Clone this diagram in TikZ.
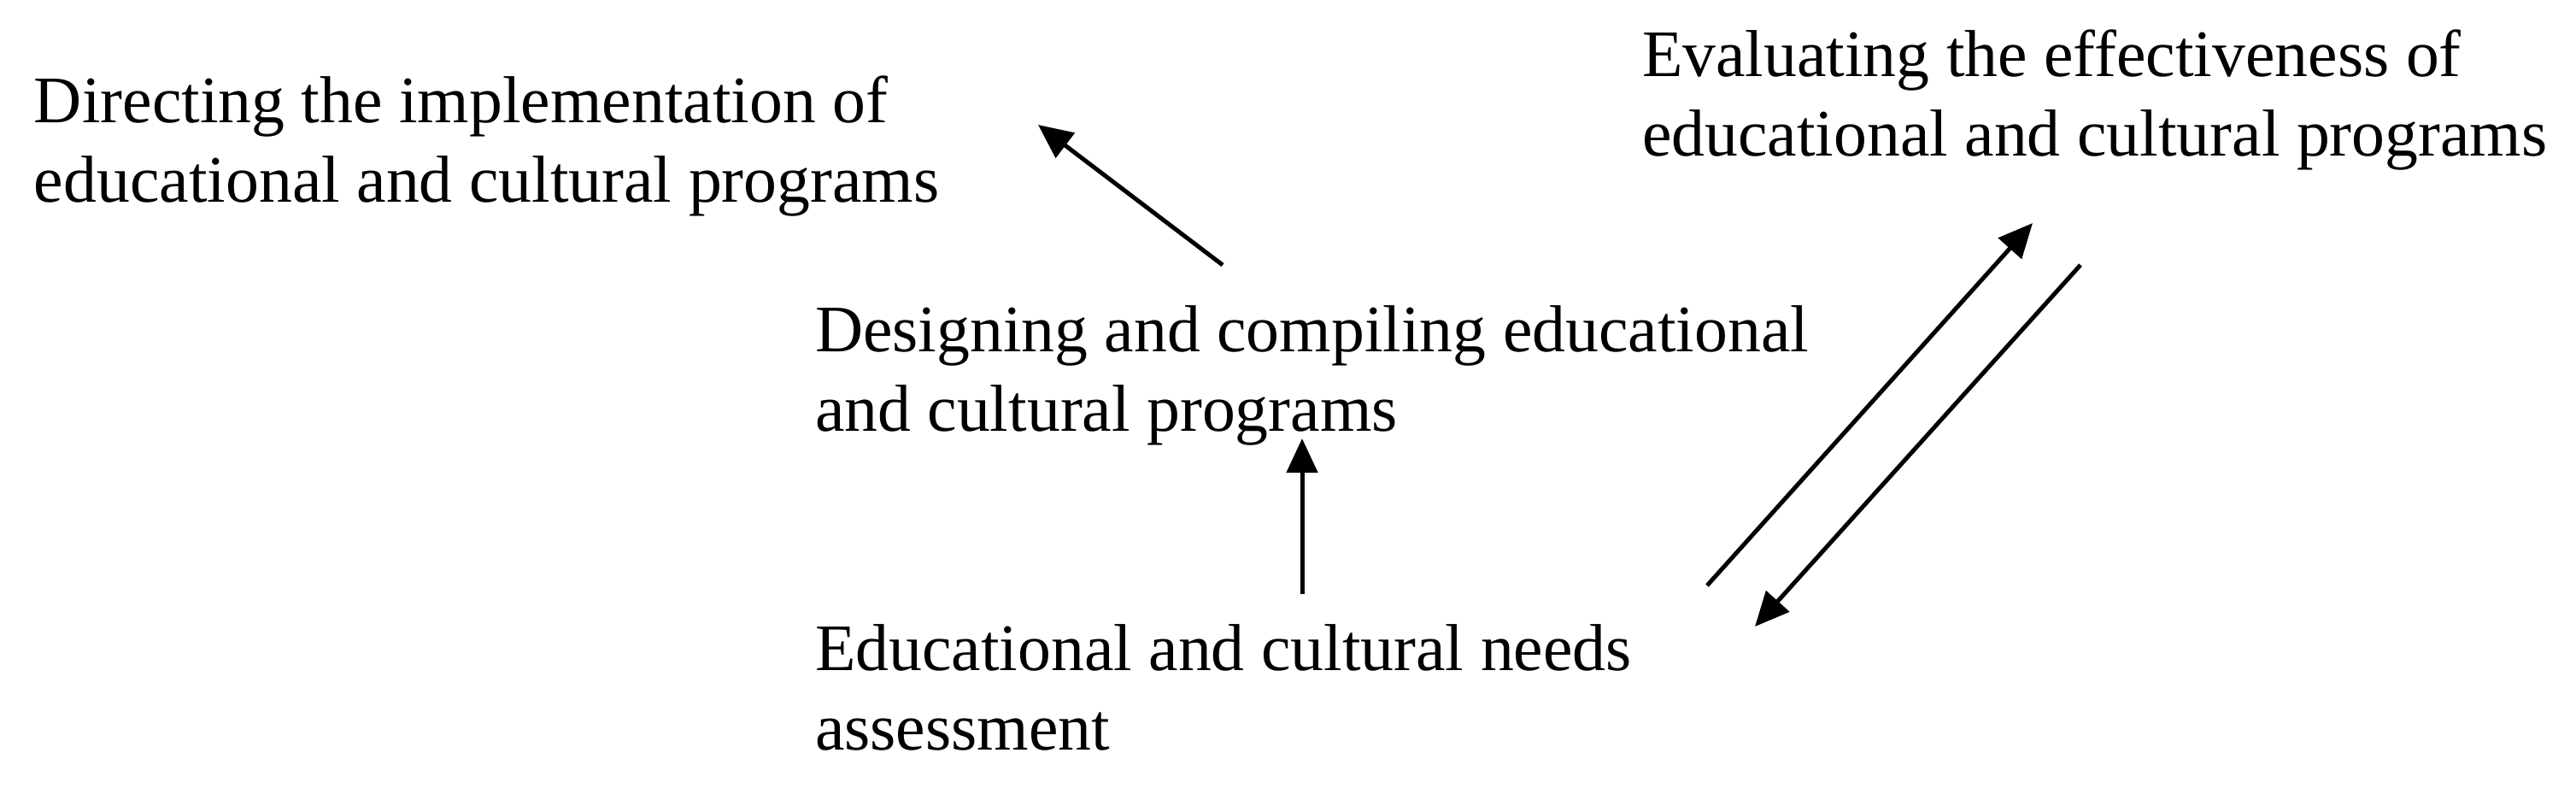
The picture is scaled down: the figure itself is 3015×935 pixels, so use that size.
\documentclass[tikz,border=0pt]{standalone}
\usepackage{fontspec}
\setmainfont{Liberation Serif}
\usetikzlibrary{arrows.meta}
\newcommand\twoline[2]{\vtop{\baselineskip=9.35pt\hbox{#1}\hbox{#2}}}
\tikzset{
  lbl/.style={anchor=base west, inner sep=0pt, font=\fontsize{7.77pt}{9.35pt}\selectfont},
  arr/.style={line width=0.5pt, -{Triangle[length=4pt,width=3.6pt]}}
}
\begin{document}
\begin{tikzpicture}[x=0.1pt,y=-0.1pt]
\useasboundingbox (0,0) rectangle (3015,935);
\node[lbl] (dir) at (38,143) {\twoline{Directing the implementation of}{educational and cultural programs}};
\node[lbl] (des) at (952,411) {\twoline{Designing and compiling educational}{and cultural programs}};
\node[lbl] (need) at (952,784) {\twoline{Educational and cultural needs}{assessment}};
\node[lbl] (eval) at (1920,89) {\twoline{Evaluating the effectiveness of}{educational and cultural programs}};
\coordinate (a1s) at (1431,310);
\coordinate (a1e) at (1215,146);
\coordinate (a2s) at (1524,695);
\coordinate (a2e) at (1524,513);
\coordinate (a3s) at (1998,685);
\coordinate (a3e) at (2379,261);
\coordinate (a4s) at (2435,310);
\coordinate (a4e) at (2054,733);
\draw[arr] (a1s) -- (a1e);
\draw[arr] (a2s) -- (a2e);
\draw[arr] (a3s) -- (a3e);
\draw[arr] (a4s) -- (a4e);
\end{tikzpicture}
\end{document}
